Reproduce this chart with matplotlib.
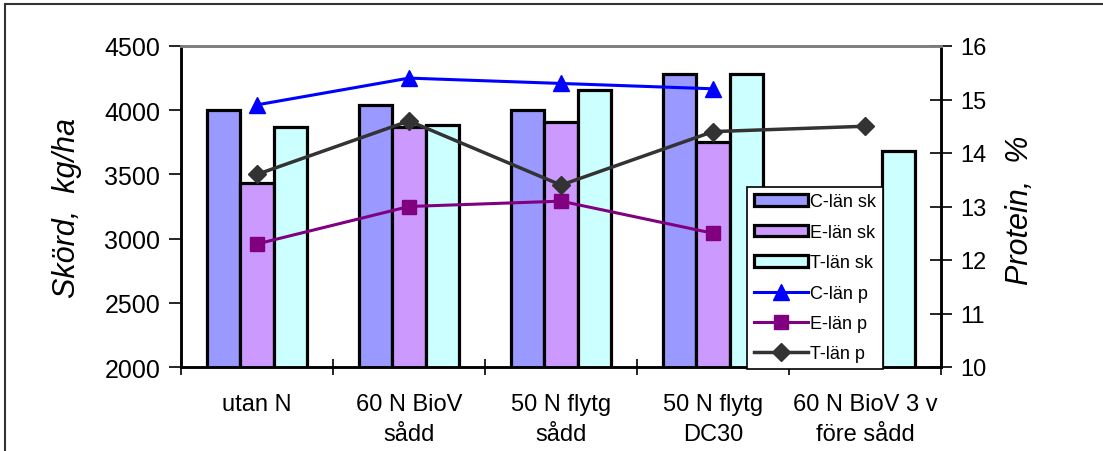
import numpy as np
import matplotlib
matplotlib.use('Agg')
import matplotlib.pyplot as plt
import matplotlib.patches as mpatches

plt.rcParams['font.family'] = ['Liberation Sans', 'DejaVu Sans']

# data
kategorier = ['utan N', '60 N BioV\nsådd', '50 N flytg\nsådd', '50 N flytg\nDC30', '60 N BioV 3 v\nföre sådd']
c_sk = [4000, 4040, 4000, 4280, np.nan]
e_sk = [3430, 3870, 3910, 3750, np.nan]
t_sk = [3870, 3885, 4160, 4280, 3680]
c_p = [14.9, 15.4, 15.3, 15.2, np.nan]
e_p = [12.3, 13.0, 13.1, 12.5, np.nan]
t_p = [13.6, 14.6, 13.4, 14.4, 14.5]

W, H = 1103, 452
fig = plt.figure(figsize=(W / 100, H / 100), dpi=100)
ax = fig.add_axes([181 / W, 1 - 368 / H, 760 / W, 321 / H])
ax2 = ax.twinx()

x = np.arange(len(kategorier))
bw = 0.22
b1 = ax.bar(x - bw, c_sk, bw, color='#9999FF', edgecolor='black', linewidth=2.3, label='C-län sk')
b2 = ax.bar(x, e_sk, bw, color='#CC99FF', edgecolor='black', linewidth=2.3, label='E-län sk')
b3 = ax.bar(x + bw, t_sk, bw, color='#CCFFFF', edgecolor='black', linewidth=2.3, label='T-län sk')

l1, = ax2.plot(x, c_p, color='#0000FF', lw=2.2, marker='^', ms=11, label='C-län p')
l2, = ax2.plot(x, e_p, color='#800080', lw=2.2, marker='s', ms=10, label='E-län p')
l3, = ax2.plot(x, t_p, color='#333333', lw=2.5, marker='D', ms=9, label='T-län p')

ax.set_xlim(-0.5, 4.5)
ax.set_ylim(2000, 4500)
ax.set_yticks(range(2000, 4501, 500))
ax2.set_ylim(10, 16)
ax2.set_yticks(range(10, 17))

ax.set_xticks(x)
ax.set_xticklabels(kategorier, fontsize=17, linespacing=1.45)
ax.set_xticks(np.arange(-0.5, 4.6, 1), minor=True)
ax.tick_params(axis='x', which='major', length=0, pad=19)
ax.tick_params(axis='x', which='minor', length=12, width=1.2, direction='inout')
ax.tick_params(axis='y', labelsize=18, length=9, width=1.2, direction='out', pad=6)
ax2.tick_params(axis='y', labelsize=17, length=16, width=1.2, direction='inout', pad=6)

for a in (ax, ax2):
    a.spines['top'].set_color('#808080')
    a.spines['top'].set_linewidth(2)
    a.spines['left'].set_linewidth(1.8)
    a.spines['right'].set_linewidth(1.8)
    a.spines['bottom'].set_linewidth(1.8)

fig.text(67 / W, 1 - 208 / H, 'Skörd,  kg/ha', rotation=90, ha='center', va='center',
         fontsize=22, style='italic')
fig.text(1020 / W, 1 - 210 / H, 'Protein,  %', rotation=90, ha='center', va='center',
         fontsize=22, style='italic')

handles = [b1, b2, b3, l1, l2, l3]
leg = ax2.legend(handles=handles, loc='lower left', bbox_to_anchor=(0.745, -0.005),
                 fontsize=13, frameon=True, fancybox=False, edgecolor='black',
                 framealpha=1, handlelength=3.0, handleheight=0.6, handletextpad=0.15,
                 labelspacing=0.74, borderpad=0.35, borderaxespad=0)
leg.get_frame().set_linewidth(1.2)
leg.set_zorder(10)

# yttre ram
fig.patches.append(mpatches.Rectangle((5 / W, -0.1), 1.2, 1 - 5 / H + 0.1, transform=fig.transFigure,
                                      fill=False, edgecolor='#333333', linewidth=1.5))

fig.savefig('out.png', dpi=100)
